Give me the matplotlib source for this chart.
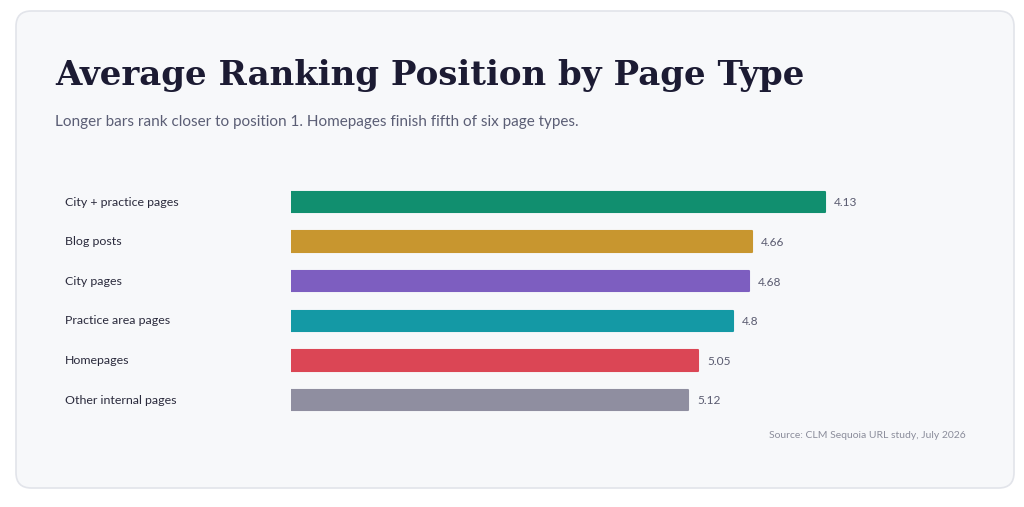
from matplotlib import pyplot as plt
from matplotlib.patches import FancyBboxPatch

# data
page_types = ["City + practice pages", "Blog posts", "City pages",
              "Practice area pages", "Homepages", "Other internal pages"]
avg_position = [4.13, 4.66, 4.68, 4.8, 5.05, 5.12]
value_labels = ["4.13", "4.66", "4.68", "4.8", "5.05", "5.12"]
bar_colors = ["#118f6f", "#c8962f", "#7d5ec0", "#1499a5", "#db4655", "#8f8ea0"]

# bar length = distance from a position-8 baseline, so longer = closer to 1
baseline = 8
scores = [baseline - v for v in avg_position]

W, H = 1024, 507
fig = plt.figure(figsize=(W / 100, H / 100), dpi=100)
fig.patch.set_facecolor("white")

# card background
card = FancyBboxPatch((16 / W, 1 - 488 / H), (1014 - 16) / W, (488 - 11) / H,
                      boxstyle="round,pad=0,rounding_size=0.015",
                      mutation_aspect=W / H,
                      transform=fig.transFigure, facecolor="#f7f8fa",
                      edgecolor="#e2e4ea", lw=1.2, zorder=-5)
fig.patches.append(card)

sans = ["Lato", "DejaVu Sans"]

title = fig.text(55 / W, 1 - 75 / H, "Average Ranking Position by Page Type",
                 family=["DejaVu Serif"], fontweight="heavy", fontsize=30,
                 color="#1c1b33", va="center", ha="left")
sub = fig.text(55 / W, 1 - 122 / H,
               "Longer bars rank closer to position 1. Homepages finish fifth of six page types.",
               family=sans, fontsize=11.5, color="#5b5e75", va="center", ha="left")
# fit widths to the reference
fig.canvas.draw()
title.set_fontsize(30 * 748 / title.get_window_extent().width)
sub.set_fontsize(11.5 * 523 / sub.get_window_extent().width)

ax = fig.add_axes([291 / W, 1 - 419.8 / H, (966 - 291) / W, 237.6 / H])
ax.set_facecolor("none")
ypos = list(range(len(page_types)))
ax.barh(ypos, scores, height=0.52, color=bar_colors, edgecolor=bar_colors,
        linewidth=1.5, joinstyle="round")
ax.set_xlim(0, (966 - 291) / 138.0)
ax.set_ylim(len(page_types) - 0.5, -0.5)
ax.axis("off")

for y, s, lab in zip(ypos, scores, value_labels):
    ax.annotate(lab, (s, y), xytext=(9, -1), textcoords="offset pixels",
                va="center", ha="left", family=sans, fontsize=8.6,
                color="#5a5b70")

for y, name in zip(ypos, page_types):
    ax.annotate(name, (0, y), xycoords=("figure fraction", "data"),
                xytext=(65, 0), textcoords="offset pixels",
                va="center", ha="left", family=sans, fontsize=8.9,
                color="#2a2a3c")

fig.text(966 / W, 1 - 436 / H, "Source: CLM Sequoia URL study, July 2026",
         family=sans, fontsize=7.5, color="#8b8d9b", va="center", ha="right")

fig.savefig("out.png", dpi=100, facecolor="white")
